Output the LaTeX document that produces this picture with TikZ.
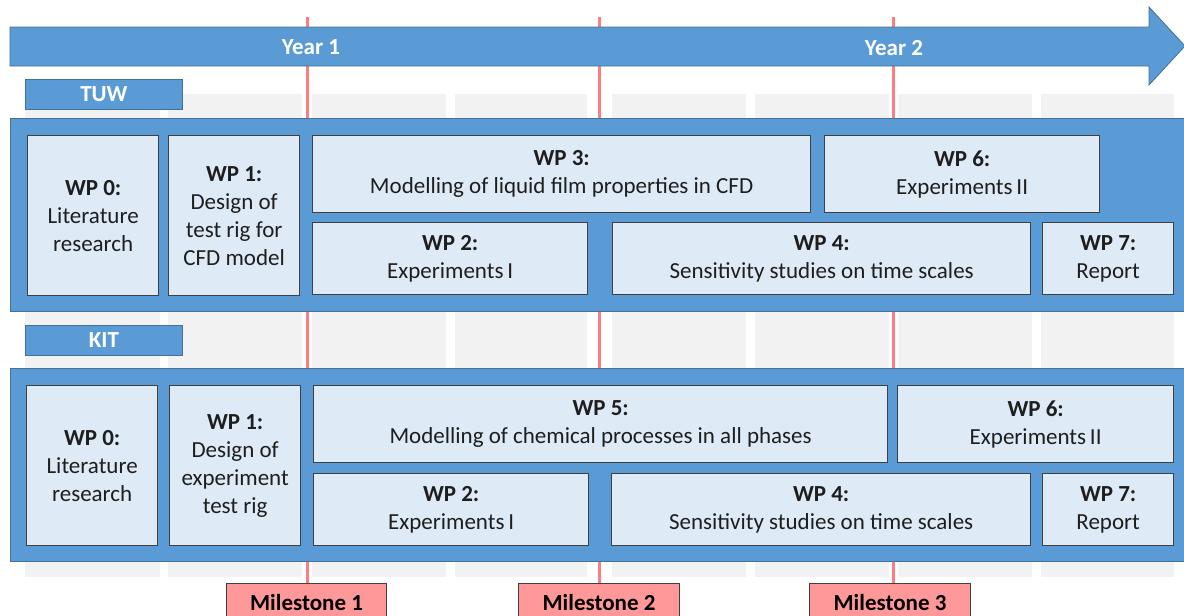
\documentclass[tikz,border=0pt]{standalone}
\usepackage{fontspec}
\setmainfont{Carlito}
\pgfdeclarelayer{bg}
\pgfsetlayers{bg,main}
\definecolor{pblue}{HTML}{5B9BD5}
\definecolor{pborder}{HTML}{41719C}
\definecolor{boxfill}{HTML}{DEEBF7}
\definecolor{boxborder}{HTML}{404040}
\definecolor{colgray}{HTML}{F2F2F2}
\definecolor{linered}{HTML}{FF7C80}
\definecolor{msred}{HTML}{FF9999}
\definecolor{txt}{HTML}{1E1E1E}
\begin{document}
\begin{tikzpicture}[x=1pt,y=-1pt,
  wp/.style={draw=boxborder, fill=boxfill, line width=1.3pt, inner sep=0pt,
    anchor=north west, align=center, font=\fontsize{23}{28}\selectfont, text=txt},
  sz/.style 2 args={minimum width=#1pt, minimum height=#2pt},
  panel/.style={draw=pborder, fill=pblue, line width=0.8pt, inner sep=0pt, anchor=north west},
  tag/.style={panel, font=\bfseries\fontsize{23}{26}\selectfont, text=white,
    minimum width=157pt, minimum height=30pt},
  year/.style={font=\bfseries\fontsize{23}{26}\selectfont, text=white, inner sep=0pt},
  ms/.style={draw=boxborder, fill=msred, line width=1pt, anchor=north west, inner sep=0pt,
    minimum width=160pt, minimum height=38pt, font=\bfseries\fontsize{23}{26}\selectfont, text=black},
  msline/.style={draw=linered, line width=3pt}
]
\useasboundingbox (0,0) rectangle (1184,616);

% timeline arrow
\filldraw[fill=pblue, draw=pborder, line width=0.8pt]
  (10,27) -- (1149,27) -- (1149,7) -- (1185,46) -- (1149,85) -- (1149,66) -- (10,66) -- cycle;
\node[year] (y1) at (311,47) {Year 1};
\node[year] (y2) at (894,48) {Year 2};

% TUW
\node[tag] (tuw) at (25,79) {TUW};
\node[panel, sz={1180}{193}] (tuwp) at (10,118) {};
\node[wp, sz={131}{160}] (t0) at (27,135) {{\bfseries WP 0:}\\Literature\\research};
\node[wp, sz={131}{160}] (t1) at (168,135) {{\bfseries WP 1:}\\Design of\\test rig for\\CFD model};
\node[wp, sz={498}{77}] (t3) at (312,135) {{\bfseries WP 3:}\\Modelling of liquid film properties in CFD};
\node[wp, sz={275}{77}] (t6) at (824,135) {{\bfseries WP 6:}\\Experiments\,II};
\node[wp, sz={275}{72}] (t2) at (312,222) {{\bfseries WP 2:}\\Experiments\,I};
\node[wp, sz={418}{72}] (t4) at (612,222) {{\bfseries WP 4:}\\Sensitivity studies on time scales};
\node[wp, sz={131}{72}] (t7) at (1042,222) {{\bfseries WP 7:}\\Report};

% KIT
\node[tag] (kit) at (25,325) {KIT};
\node[panel, sz={1180}{193}] (kitp) at (10,368) {};
\node[wp, sz={131}{160}] (k0) at (26,385) {{\bfseries WP 0:}\\Literature\\research};
\node[wp, sz={131}{160}] (k1) at (169,385) {{\bfseries WP 1:}\\Design of\\experiment\\test rig};
\node[wp, sz={574}{77}] (k5) at (313,385) {{\bfseries WP 5:}\\Modelling of chemical processes in all phases};
\node[wp, sz={276}{77}] (k6) at (897,385) {{\bfseries WP 6:}\\Experiments\,II};
\node[wp, sz={275}{72}] (k2) at (313,473) {{\bfseries WP 2:}\\Experiments\,I};
\node[wp, sz={419}{72}] (k4) at (611,473) {{\bfseries WP 4:}\\Sensitivity studies on time scales};
\node[wp, sz={131}{72}] (k7) at (1042,473) {{\bfseries WP 7:}\\Report};

% milestones
\node[ms] (ms1) at (226,583) {Milestone 1};
\node[ms, minimum width=161pt] (ms2) at (518,583) {Milestone 2};
\node[ms, minimum width=161pt] (ms3) at (809,583) {Milestone 3};

\coordinate (r1) at (307,17);
\coordinate (r2) at (599,17);
\coordinate (r3) at (893,17);

\begin{pgfonlayer}{bg}
  \foreach \a/\b in {25/160,168/302,312/446,455/587,612/746,755/889,898/1032,1041/1174}
    \fill[colgray] (\a,94) rectangle (\b,577);
  \draw[msline] (r1) -- (r1 |- ms1.north);
  \draw[msline] (r2) -- (r2 |- ms2.north);
  \draw[msline] (r3) -- (r3 |- ms3.north);
\end{pgfonlayer}
\end{tikzpicture}
\end{document}
